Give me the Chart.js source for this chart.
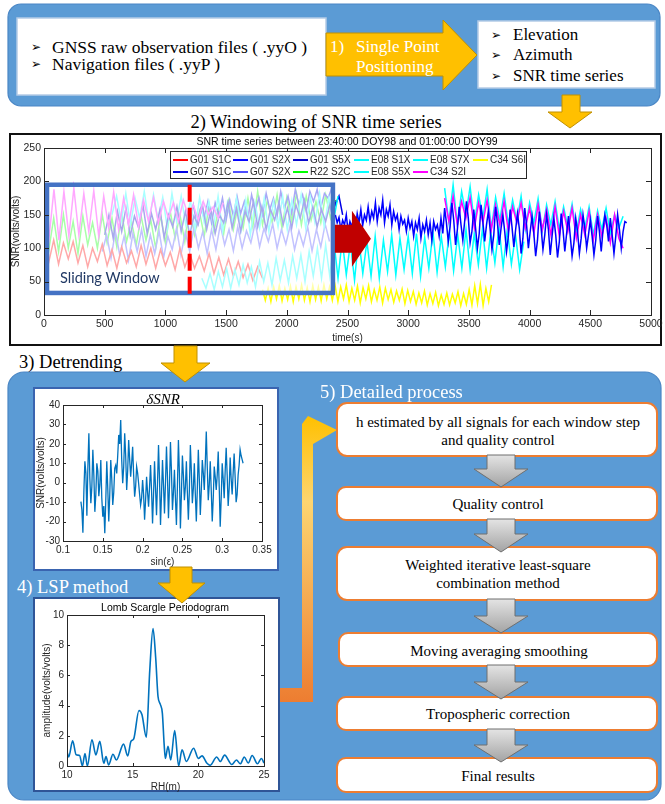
<!DOCTYPE html>
<html>
<head>
<meta charset="utf-8">
<title>GNSS-IR processing workflow</title>
<script src="https://cdn.jsdelivr.net/npm/chart.js@4.4.0/dist/chart.umd.min.js"></script>
<style>
  body { margin: 0; background: #fff; }
  #page { position: relative; width: 665px; height: 804px; overflow: hidden; }
  canvas { position: absolute; }
  .tx { position: absolute; white-space: nowrap; font-family: "Liberation Serif", "Times New Roman", "DejaVu Serif", serif; color: #000; }
  .c { transform: translateX(-50%); }
  .bul { font-family: "DejaVu Sans", sans-serif; font-size: 12px; }
  .sans { font-family: "Liberation Sans", Arial, Helvetica, sans-serif; }
  #legend { position: absolute; left: 170px; top: 151px; width: 357px; height: 28px; background: #fff; border: 1px solid #262626; box-sizing: border-box; }
  .lg { position: absolute; font-family: "Liberation Sans", Arial, sans-serif; font-size: 10px; line-height: 12px; color: #262626; white-space: nowrap; }
  .lgline { position: absolute; height: 2px; width: 15px; }
</style>
</head>
<body>
<div id="page">
<svg width="665" height="804" style="position:absolute;left:0;top:0">
  <defs>
    <linearGradient id="grayArrow" x1="0" y1="0" x2="0" y2="1">
      <stop offset="0" stop-color="#e4e4e4"/>
      <stop offset="1" stop-color="#a3a3a3"/>
    </linearGradient>
    <linearGradient id="bentArrow" gradientUnits="userSpaceOnUse" x1="0" y1="416" x2="0" y2="702">
      <stop offset="0" stop-color="#FFC000"/>
      <stop offset="0.3" stop-color="#FDD570"/>
      <stop offset="1" stop-color="#ED7D31"/>
    </linearGradient>
  </defs>
  <!-- input stage -->
  <rect x="8" y="4" width="652" height="102" rx="13" fill="#5B9BD5" stroke="#4A86C5" stroke-width="1.2"/>
  <rect x="17" y="18" width="309" height="77" fill="#fff" stroke="#B4CBE6" stroke-width="1.5"/>
  <rect x="478" y="21" width="177" height="67" fill="#fff" stroke="#B4CBE6" stroke-width="1.5"/>
  <polygon points="326,33 443,33 443,20 477,55 443,90 443,76 326,76" fill="#FFC000" stroke="#C09000" stroke-width="1"/>
  <polygon points="562,95 580,95 580,112 592,112 570,128 548,112 562,112" fill="#FFC000" stroke="#C09000" stroke-width="1"/>
  <!-- SNR plot frame -->
  <rect x="10" y="134" width="651" height="211" fill="#fff" stroke="#111" stroke-width="2"/>
  <!-- processing stage -->
  <rect x="8" y="372" width="653" height="428" rx="16" fill="#5B9BD5" stroke="#4A86C5" stroke-width="1.2"/>
  <polygon points="174,346 197,346 197,363 210,363 185,382 161,363 174,363" fill="#FFC000" stroke="#C09000" stroke-width="1"/>
  <rect x="34" y="388" width="244" height="182" fill="#fff" stroke="#3A64B0" stroke-width="2"/>
  <rect x="34" y="598" width="245" height="193" fill="#fff" stroke="#2F5597" stroke-width="2"/>
  <polygon points="170,567 192,567 192,583 205,583 182,603 158,583 170,583" fill="#FFC000" stroke="#C09000" stroke-width="1"/>
  <polygon points="280,688 302,688 302,424 308,416 337,430 313,444 313,702 280,702" fill="url(#bentArrow)"/>
  <!-- detailed process boxes -->
  <rect x="337" y="403" width="320" height="53" rx="10" fill="#fff" stroke="#ED7D31" stroke-width="2"/>
  <rect x="337" y="487" width="320" height="33" rx="9" fill="#fff" stroke="#ED7D31" stroke-width="2"/>
  <rect x="337" y="547" width="320" height="53" rx="10" fill="#fff" stroke="#ED7D31" stroke-width="2"/>
  <rect x="339" y="633" width="318" height="33" rx="9" fill="#fff" stroke="#ED7D31" stroke-width="2"/>
  <rect x="337" y="697" width="320" height="33" rx="9" fill="#fff" stroke="#ED7D31" stroke-width="2"/>
  <rect x="337" y="758" width="320" height="34" rx="9" fill="#fff" stroke="#ED7D31" stroke-width="2"/>
  <g fill="url(#grayArrow)" stroke="#6f6f6f" stroke-width="1">
    <polygon points="487,455 515,455 515,469 528,469 501,487 474,469 487,469"/>
    <polygon points="487,519 515,519 515,534 528,534 501,552 474,534 487,534"/>
    <polygon points="487,599 515,599 515,616 528,616 501,633 474,616 487,616"/>
    <polygon points="487,665 515,665 515,682 528,682 501,699 474,682 487,682"/>
    <polygon points="487,729 515,729 515,745 528,745 501,762 474,745 487,745"/>
  </g>
</svg>

<canvas id="snr" width="655" height="210" style="left:10px;top:134px"></canvas>
<canvas id="dsnr" width="241" height="179" style="left:35px;top:389px"></canvas>
<canvas id="lsp" width="243" height="193" style="left:35px;top:600px"></canvas>

<!-- input stage text -->
<div class="tx bul" style="left:31px;top:39px;line-height:16px">➢</div>
<div class="tx" style="left:52px;top:37px;font-size:17.5px;line-height:20px">GNSS raw observation files ( .yyO )</div>
<div class="tx bul" style="left:31px;top:56px;line-height:16px">➢</div>
<div class="tx" style="left:52px;top:54px;font-size:17.5px;line-height:20px">Navigation files ( .yyP )</div>
<div class="tx" style="left:330px;top:37px;font-size:17px;line-height:20px;color:#fff">1)</div>
<div class="tx" style="left:356px;top:37px;font-size:17px;line-height:20px;color:#fff">Single Point</div>
<div class="tx" style="left:356px;top:57px;font-size:17px;line-height:20px;color:#fff">Positioning</div>
<div class="tx bul" style="left:491px;top:27px;line-height:16px">➢</div>
<div class="tx" style="left:513px;top:25px;font-size:17px;line-height:20px">Elevation</div>
<div class="tx bul" style="left:491px;top:47px;line-height:16px">➢</div>
<div class="tx" style="left:513px;top:45px;font-size:17px;line-height:20px">Azimuth</div>
<div class="tx bul" style="left:491px;top:68px;line-height:16px">➢</div>
<div class="tx" style="left:513px;top:66px;font-size:17px;line-height:20px">SNR time series</div>
<div class="tx c" style="left:316px;top:111px;font-size:18.5px;line-height:22px">2) Windowing of SNR time series</div>

<!-- SNR plot annotations -->
<div class="tx c sans" style="left:347px;top:134px;font-size:10.5px;line-height:14px">SNR time series between 23:40:00 DOY98 and 01:00:00 DOY99</div>
<div id="legend"></div>
<div class="tx" style="left:60px;top:268px;font-family:Lato,'Open Sans',sans-serif;font-size:14.5px;line-height:20px;color:#203864">Sliding Window</div>

<!-- processing stage text -->
<div class="tx" style="left:19px;top:351px;font-size:18.5px;line-height:22px">3) Detrending</div>
<div class="tx c" style="left:163px;top:390px;font-size:15px;line-height:18px;font-style:italic">δSNR</div>
<div class="tx" style="left:17px;top:576px;font-size:18.5px;line-height:22px;color:#fff">4) LSP method</div>
<div class="tx c sans" style="left:165px;top:600px;font-size:10.5px;line-height:14px">Lomb Scargle Periodogram</div>
<div class="tx" style="left:320px;top:381px;font-size:18.5px;line-height:22px;color:#fff">5) Detailed process</div>
<div class="tx c" style="left:498px;top:412px;font-size:15px;line-height:20px">h estimated by all signals for each window step</div>
<div class="tx c" style="left:498px;top:430px;font-size:15px;line-height:20px">and quality control</div>
<div class="tx c" style="left:498px;top:494px;font-size:15px;line-height:20px">Quality control</div>
<div class="tx c" style="left:498px;top:555px;font-size:15px;line-height:20px">Weighted iterative least-square</div>
<div class="tx c" style="left:498px;top:573px;font-size:15px;line-height:20px">combination method</div>
<div class="tx c" style="left:499px;top:641px;font-size:15px;line-height:20px">Moving averaging smoothing</div>
<div class="tx c" style="left:498px;top:704px;font-size:15px;line-height:20px">Tropospheric correction</div>
<div class="tx c" style="left:498px;top:766px;font-size:15px;line-height:20px">Final results</div>
</div>

<script>
// ---- SNR observations (volts/volts), one array per signal ----
const signalNames = ['G01 S1C', 'G01 S2X', 'G01 S5X', 'E08 S1X', 'E08 S7X', 'C34 S6I',
                     'G07 S1C', 'G07 S2X', 'R22 S2C', 'E08 S5X', 'C34 S2I'];
const startTimes  = [0, 2400, 500, 1300, 560, 1800, 1200, 480, 0, 3300, 0];
const sampleSteps = [40, 15, 35, 34, 38, 23, 30, 36, 40, 35, 41];

const g01s1c = [105,80,112,76,108,84,110,78,104,72, 100,80,106,74,98,70,102,78,96,72,
  104,76,100,70,98,74,94,68,100,72, 92,70,88,66,92,62,86,60,84,58, 80,56,76,52,72,55];
const g01s2x = [150,138,146,128,142,135,150,125,140,132, 146,130,152,138,158,134,150,142,162,140,
  155,145,168,140,160,150,172,138,158,148, 165,135,155,142,150,128,148,136,142,125,
  145,130,140,118,138,128,145,115,135,125, 142,120,138,112,140,128,135,118,145,122,
  160,138,110,132,168,142,105,128,162,135, 112,140,170,145,108,125,158,130,100,122,
  165,140,110,135,155,128,98,120,162,138, 105,130,150,125,95,118,158,132,102,128,
  152,130,92,115,160,135,100,125,148,122, 88,112,155,130,98,120,150,128,90,118,
  145,120,86,110,152,128,95,122,148,118, 88,108,145,125,92,115,150,130,100,120,
  142,118,90,112,148,125,95,128,150,135, 110,145,120,92,118,150,128,100,125,140, 138];
const g01s5x = [120,150,115,155,125,160,118,148,130,165, 122,152,128,158,115,150,132,162,125,155,
  120,148,135,165,128,158,122,150,138,168, 130,160,125,155,140,170,132,162,128,158,
  142,168,135,160,130,165,145,172,138,162, 132,158,140,165,135];
const e08s1x = [55,40,62,38,65,42,70,40,68,45, 75,48,72,42,80,50,78,45,85,52,
  82,48,88,55,90,50,95,58,100,55, 105,58,110,55,112,60,108,52,115,62,
  110,58,118,55,112,65,120,60,115,68, 118,62,122,58,116,70,124,64,118,72,
  126,66,120,70,128,68,122,75,130,70, 125,78,132,72,128,76,120,68,110];
const e08s7x = [150,178,140,182,135,175,145,185,138,180, 142,176,130,182,140,178,135,172,128,176,
  138,170,132,178,125,168,135,175,128,172, 120,168,130,175,125,170,132,178,128,172,
  135,180,130,176,138,182,132,175,140,178];
const c34s6i = [38,22,40,20,42,24,44,21,40,23, 43,20,42,24,45,22,41,20,44,23, 42,21,45,24,
  42,22,44,20,42,24,45,20,40,22, 43,18,41,24,44,20,38,22,42,18, 40,23,38,19,36,22,39,17,37,20,
  35,16,33,18,36,15,32,17,34,14, 30,16,33,15,31,18,35,14,32,16, 38,15,44,17,46,14,40,20,45];
const g07s1c = [140,165,135,160,145,170,138,168,150,175, 142,172,148,178,152,170,145,180,155,176,
  150,182,158,175,148,185,160,178,152,188, 165,180,155,185,170,188,160,182,175,190, 165,178,150];
const g07s2x = [95,120,85,125,90,118,82,122,95,128, 88,120,92,126,85,118,98,130,90,124,
  95,132,100,125,92,128,98,135,105,128, 96,132,100,126,108,138,102,130,110,136,
  100,128,106,134,98,126,104,132,96,128, 102,136,110];
const r22s2c = [130,98,145,95,150,100,140,92,148,105, 138,100,150,108,145,102,152,110,140,105,
  148,112,142,100,150,108,155,115,150,110, 160,120,155,118,165,125,160,122,170,128,
  165,130,175,132,185,135,172,138,180,130, 176,140,182,135,178,142,170,138,180,145, 172];
const e08s5x = [190,140,195,135,185,150,192,138,180,145, 188,130,176,142,182,135,172,140,178,128,
  168,138,174,126,165,135,170,128,162,132, 166,124,158,130,162,120,156,128,160,122, 150,130,148];
const c34s2iEarly = [170,115,188,112,185,118,190,120,182,125, 186,118,178,130,184,128,175,135,180,132,
  172,140,176,138,170,145,168,140,172,148, 165,142,170,150,162,145,168];
const c34s2iLate = [175,140,178,135,170,145,176,130,168,138, 172,128,165,135,170,125,162,138,168,130,
  160,122,165,128,158,120,162,118,155,125, 160,115,150,120,155,112,150,118,145,108, 150,115,100];
const c34s2iLateStart = 3300, c34s2iLateStep = 35;

// sliding window extent: [start time, end time, lower SNR, upper SNR] and the split marker
const windowSpan = [25, 2380, 33, 195];
const windowSplit = 1200;

// ---- detrended SNR against sin(elevation) ----
const dsnrStart = 0.1225, dsnrStep = 0.00125;
const dsnrValues = [-9.7,-14,-25.7,-4,11,5,-17,8,25.4,2,-10.6,-2,17,4,-15,-6,10,6,-7,-1,
  11.7,-8,-17.5,-12,-26,-9,11,-3,-20,-6,11.7,2,-11.5,-5,7.4,9,4.8,14,24.6,20,
  32.3,12,-0.3,8,25.4,14,-3.7,6,22,12,3.1,10,18.5,4,-7.2,-2,8.3,5,-0.3,-6,
  -11.5,-8,1.4,-6,-19,-9,3,-5,-12.3,-2,9.1,-4,-21,-6,11,-3,-16.7,0,19.4,2,
  -21.7,-6,11.7,-1,-15.8,0,18.6,3,-18.3,-2,21,6,-14,-5,6.6,-8,-21.7,-2,22,5,
  -23.5,-6,14,4,-9,-2,11,-5,-19,-4,19.4,6,-10.6,-3,10,-6,-20,-3,17,2,
  -16.6,-4,11.7,5,-3.7,10,26.3,8,-9,-1,11,-4,-20,-8,8.3,3,-3.7,4,16,-2,
  -22.6,-8,10,2,-8,6,18,4,-12,-3,13,2,-6,5,15,3,-10,-6,4,9,17,14,12,10];

// ---- Lomb-Scargle periodogram ----
const lspRH = [10,10.13,10.43,10.7,10.96,11.17,11.37,11.55,11.9,12.2,12.5,12.8,12.97,13.17,13.5,13.76,
  14.31,14.62,14.87,15.08,15.48,15.71,16.04,16.3,16.55,16.75,16.93,17.1,17.26,17.4,17.49,17.69,17.9,
  18.2,18.5,18.76,19.09,19.64,20.0,20.28,20.66,20.9,21.4,21.67,22.0,22.55,22.9,23.2,23.5,23.8,24.1,24.5,24.8,25];
const lspAmp = [0.96,0.6,1.67,0.74,0.7,0,0.83,0,1.74,0.74,1.63,0.18,0.62,0.07,0.78,0.4,
  1.45,0.67,1.63,1.8,3.68,3.4,1.9,6.3,9.1,7.2,4.6,4.1,3.5,1.4,0.5,1.3,0.4,
  2.35,0,1.07,0.3,1.18,0.5,0.67,0.18,0.05,0.6,0.3,0.72,0.1,0.4,0.15,0.6,0.2,0.7,0.15,0.5,0.2];

// ---- styling ----
const signalColors = ['#FF0000', '#0000FF', '#0000C8', '#00FFFF', '#00FFFF', '#FFFF00',
                      '#0000E6', '#4D4DFF', '#00FF00', '#00FFFF', '#FF00FF'];
const drawOrder = [6, 1, 7, 4, 8, 5, 9, 10, 11, 3, 2];
const matlabBlue = '#0072BD';

Chart.defaults.font.family = '"Liberation Sans", Arial, Helvetica, sans-serif';
Chart.defaults.color = '#262626';

function timeSeries(t0, dt, values) {
  return values.map((v, i) => ({ x: t0 + i * dt, y: v }));
}

const signalValues = [g01s1c, g01s2x, g01s5x, e08s1x, e08s7x, c34s6i, g07s1c, g07s2x, r22s2c, e08s5x, c34s2iEarly];
const snrDatasets = signalNames.map((name, i) => {
  let pts = timeSeries(startTimes[i], sampleSteps[i], signalValues[i]);
  if (name === 'C34 S2I') {
    pts = pts.concat([{ x: 1500, y: null }], timeSeries(c34s2iLateStart, c34s2iLateStep, c34s2iLate));
  }
  return { label: name, data: pts, borderColor: signalColors[i], borderWidth: 1.5, order: drawOrder[i] };
});

// MATLAB-style axes box with inward tick marks on all four sides
const boxTicks = {
  id: 'boxTicks',
  afterDraw(chart, args, opts) {
    const { ctx, chartArea: a, scales: { x, y } } = chart;
    const len = opts.len || 4;
    ctx.save();
    ctx.strokeStyle = '#262626';
    ctx.lineWidth = 1;
    ctx.beginPath();
    x.ticks.forEach(t => {
      const p = Math.round(x.getPixelForValue(t.value)) + 0.5;
      ctx.moveTo(p, a.bottom); ctx.lineTo(p, a.bottom - len);
      ctx.moveTo(p, a.top); ctx.lineTo(p, a.top + len);
    });
    y.ticks.forEach(t => {
      const p = Math.round(y.getPixelForValue(t.value)) + 0.5;
      ctx.moveTo(a.left, p); ctx.lineTo(a.left + len, p);
      ctx.moveTo(a.right, p); ctx.lineTo(a.right - len, p);
    });
    ctx.stroke();
    ctx.strokeRect(Math.round(a.left) + 0.5, Math.round(a.top) + 0.5, Math.round(a.width), Math.round(a.height));
    ctx.restore();
  }
};

// translucent sliding window, split marker and the step arrow
const slidingWindow = {
  id: 'slidingWindow',
  afterDatasetsDraw(chart) {
    const { ctx, scales: { x, y } } = chart;
    const l = x.getPixelForValue(windowSpan[0]);
    const r = x.getPixelForValue(windowSpan[1]);
    const b = y.getPixelForValue(windowSpan[2]);
    const t = y.getPixelForValue(windowSpan[3]);
    ctx.save();
    ctx.fillStyle = 'rgba(255,255,255,0.66)';
    ctx.fillRect(l, t, r - l, b - t);
    ctx.strokeStyle = '#4472C4';
    ctx.lineWidth = 4.5;
    ctx.strokeRect(l, t, r - l, b - t);
    const sx = x.getPixelForValue(windowSplit);
    ctx.strokeStyle = '#FF0000';
    ctx.lineWidth = 4;
    ctx.setLineDash([17, 6]);
    ctx.beginPath();
    ctx.moveTo(sx, t);
    ctx.lineTo(sx, b + 2);
    ctx.stroke();
    ctx.setLineDash([]);
    const cy = (t + b) / 2, x0 = r + 2;
    ctx.fillStyle = '#C00000';
    ctx.beginPath();
    ctx.moveTo(x0, cy - 14);
    ctx.lineTo(x0 + 17, cy - 14);
    ctx.lineTo(x0 + 17, cy - 28);
    ctx.lineTo(x0 + 36, cy);
    ctx.lineTo(x0 + 17, cy + 28);
    ctx.lineTo(x0 + 17, cy + 14);
    ctx.lineTo(x0, cy + 14);
    ctx.closePath();
    ctx.fill();
    ctx.restore();
  }
};

const plainNumber = v => String(Math.round(v * 1000) / 1000);

function axis(min, max, step, titleText, fontSize, fit) {
  return {
    type: 'linear', min, max,
    ticks: { stepSize: step, padding: 3, maxRotation: 0, autoSkip: false, font: { size: fontSize }, callback: plainNumber },
    grid: { display: false, drawTicks: false },
    border: { display: false },
    title: { display: true, text: titleText, padding: 0, font: { size: 10 } },
    afterFit: fit
  };
}

function baseOptions(padding, len) {
  return {
    responsive: false, animation: false, devicePixelRatio: 1,
    layout: { padding },
    elements: { point: { radius: 0 }, line: { tension: 0 } },
    plugins: { legend: { display: false }, tooltip: { enabled: false }, title: { display: false }, boxTicks: { len } }
  };
}

// SNR time series
const snrOpts = baseOptions({ left: 0, top: 14, right: 14, bottom: 0 }, 5);
snrOpts.scales = {
  x: axis(0, 5000, 500, 'time(s)', 10.5, s => { s.height = 29; s.paddingLeft = 0; s.paddingRight = 0; }),
  y: axis(0, 250, 50, 'SNR(volts/volts)', 10.5, s => { s.width = 34; s.paddingTop = 0; s.paddingBottom = 0; })
};
new Chart(document.getElementById('snr'), {
  type: 'line',
  data: { datasets: snrDatasets },
  options: snrOpts,
  plugins: [slidingWindow, boxTicks]
});

// detrended SNR
const dsnrOpts = baseOptions({ left: 0, top: 16, right: 14, bottom: 0 }, 3);
dsnrOpts.scales = {
  x: axis(0.1, 0.35, 0.05, 'sin(ε)', 10, s => { s.height = 27; s.paddingLeft = 0; s.paddingRight = 0; }),
  y: axis(-30, 40, 10, 'SNR(volts/volts)', 10, s => { s.width = 28; s.paddingTop = 0; s.paddingBottom = 0; })
};
new Chart(document.getElementById('dsnr'), {
  type: 'line',
  data: { datasets: [{ label: 'δSNR', data: timeSeries(dsnrStart, dsnrStep, dsnrValues), borderColor: matlabBlue, borderWidth: 1.3 }] },
  options: dsnrOpts,
  plugins: [boxTicks]
});

// Lomb-Scargle periodogram
const lspOpts = baseOptions({ left: 6, top: 15, right: 14, bottom: 0 }, 3);
lspOpts.scales = {
  x: axis(10, 25, 5, 'RH(m)', 10, s => { s.height = 27; s.paddingLeft = 0; s.paddingRight = 0; }),
  y: axis(0, 10, 2, 'amplitude(volts/volts)', 10, s => { s.width = 26; s.paddingTop = 0; s.paddingBottom = 0; })
};
new Chart(document.getElementById('lsp'), {
  type: 'line',
  data: { datasets: [{ label: 'amplitude', data: lspRH.map((h, i) => ({ x: h, y: lspAmp[i] })),
    borderColor: matlabBlue, borderWidth: 1.6, cubicInterpolationMode: 'monotone' }] },
  options: lspOpts,
  plugins: [boxTicks]
});

// legend for the SNR plot, two rows of six entries
const legendCols = [2, 62, 122, 183, 242, 302];
const legend = document.getElementById('legend');
signalNames.forEach((name, i) => {
  const col = i % 6, row = Math.floor(i / 6);
  const top = row === 0 ? 8 : 20;
  const line = document.createElement('div');
  line.className = 'lgline';
  line.style.left = legendCols[col] + 'px';
  line.style.top = (top - 1) + 'px';
  line.style.backgroundColor = signalColors[i];
  legend.appendChild(line);
  const lab = document.createElement('div');
  lab.className = 'lg';
  lab.style.left = (legendCols[col] + 17) + 'px';
  lab.style.top = (top - 6) + 'px';
  lab.textContent = name;
  legend.appendChild(lab);
});
</script>
</body>
</html>
